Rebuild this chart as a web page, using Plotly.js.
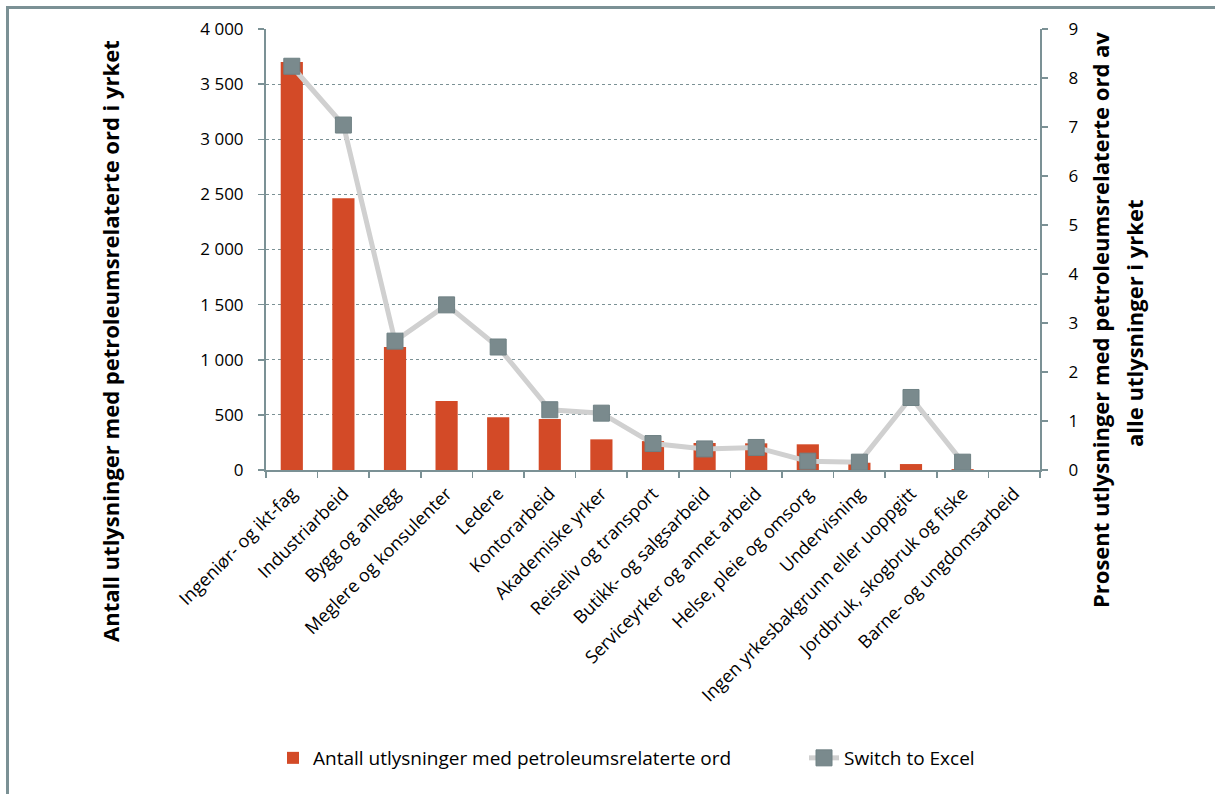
<!DOCTYPE html>
<html>
<head>
<meta charset="utf-8">
<script src="https://cdn.plot.ly/plotly-3.0.1.min.js"></script>
<style>
html,body{margin:0;padding:0;background:#fff;overflow:hidden;}
#frame{position:absolute;left:6px;top:6px;width:1300px;height:900px;border:3px solid #7b9195;box-sizing:border-box;}
#chart{position:absolute;left:0;top:0;width:1215px;height:794px;}
</style>
</head>
<body>
<div id="frame"></div>
<div id="chart"></div>
<script>
const categories = [
  "Ingeniør- og ikt-fag", "Industriarbeid", "Bygg og anlegg", "Meglere og konsulenter",
  "Ledere", "Kontorarbeid", "Akademiske yrker", "Reiseliv og transport",
  "Butikk- og salgsarbeid", "Serviceyrker og annet arbeid", "Helse, pleie og omsorg",
  "Undervisning", "Ingen yrkesbakgrunn eller uoppgitt", "Jordbruk, skogbruk og fiske",
  "Barne- og ungdomsarbeid"
];
const antall = [3700, 2465, 1115, 625, 478, 463, 278, 262, 245, 242, 233, 66, 54, 8, 0];
const prosent = [8.24, 7.04, 2.63, 3.37, 2.51, 1.23, 1.16, 0.54, 0.43, 0.46, 0.18, 0.16, 1.48, 0.16, null];
const leftTitle = "Antall utlysninger med petroleumsrelaterte ord i yrket";
const rightTitleLines = ["Prosent utlysninger med petroleumsrelaterte ord av", "alle utlysninger i yrket"];

const axisCol = "#7b9195";
const baseFont = "'Open Sans', sans-serif";
const tickFont = {family: baseFont, size: 17, color: "#000"};

// plot area in pixels
const L = 266, R = 1040, T = 29, B = 470;
const px = v => (v - L) / (R - L);
const py = v => (B - v) / (B - T);

const traces = [
  {
    type: "bar", x: categories, y: antall,
    name: "Antall utlysninger med petroleumsrelaterte ord",
    marker: {color: "#d34a27", line: {width: 0}},
    yaxis: "y", legend: "legend"
  },
  {
    type: "scatter", mode: "lines+markers", x: categories, y: prosent,
    name: "Switch to Excel",
    line: {color: "#d0d0d0", width: 5},
    marker: {symbol: "square", size: 16, color: "#7a8a8d", line: {color: "#6f8184", width: 1}},
    yaxis: "y2", connectgaps: false, legend: "legend2"
  }
];

const titleFont = {family: baseFont, size: 22, color: "#000", weight: "bold"};

const layout = {
  width: 1215, height: 794,
  paper_bgcolor: "rgba(0,0,0,0)", plot_bgcolor: "rgba(0,0,0,0)",
  margin: {l: L, r: 1215 - R, t: T, b: 794 - B},
  separators: ", ",
  bargap: 0.57,
  showlegend: true,
  font: {family: baseFont, color: "#000"},
  xaxis: {
    type: "category", range: [-0.5, 14.5], tickson: "boundaries", ticks: "outside", ticklen: 6, tickwidth: 1.5,
    tickcolor: axisCol, showline: true, linecolor: axisCol, linewidth: 2,
    tickangle: -45, tickfont: {family: baseFont, size: 18, color: "#000"},
    showgrid: false, automargin: false, ticklabelstandoff: 4
  },
  yaxis: {
    range: [0, 4000], dtick: 500, tickformat: ",d", ticks: "outside", ticklen: 6, tickwidth: 1.5,
    tickcolor: axisCol, showline: true, linecolor: axisCol, linewidth: 2,
    showgrid: true, gridcolor: axisCol, griddash: "dot", gridwidth: 1,
    zeroline: false, tickfont: tickFont, automargin: false, ticklabelstandoff: 11
  },
  yaxis2: {
    overlaying: "y", side: "right", range: [0, 9], dtick: 1,
    ticks: "outside", ticklen: 6, tickwidth: 1.5, tickcolor: axisCol,
    showline: true, linecolor: axisCol, linewidth: 2, showgrid: false, zeroline: false,
    tickfont: tickFont, automargin: false, ticklabelstandoff: 17
  },
  annotations: [
    {text: leftTitle, xref: "paper", yref: "paper", x: px(110), y: py(341), xanchor: "center", yanchor: "middle",
     textangle: -90, showarrow: false, font: titleFont},
    {text: rightTitleLines[0], xref: "paper", yref: "paper", x: px(1100), y: py(320), xanchor: "center", yanchor: "middle",
     textangle: -90, showarrow: false, font: titleFont},
    {text: rightTitleLines[1], xref: "paper", yref: "paper", x: px(1134), y: py(323), xanchor: "center", yanchor: "middle",
     textangle: -90, showarrow: false, font: titleFont}
  ],
  legend: {
    orientation: "h", x: px(273), xanchor: "left", y: py(758), yanchor: "middle",
    font: {family: baseFont, size: 19, color: "#000"}, bgcolor: "rgba(0,0,0,0)"
  },
  legend2: {
    orientation: "h", x: px(804), xanchor: "left", y: py(758), yanchor: "middle",
    font: {family: baseFont, size: 19, color: "#000"}, bgcolor: "rgba(0,0,0,0)"
  }
};

Plotly.newPlot("chart", traces, layout, {displayModeBar: false, staticPlot: true});
</script>
</body>
</html>
